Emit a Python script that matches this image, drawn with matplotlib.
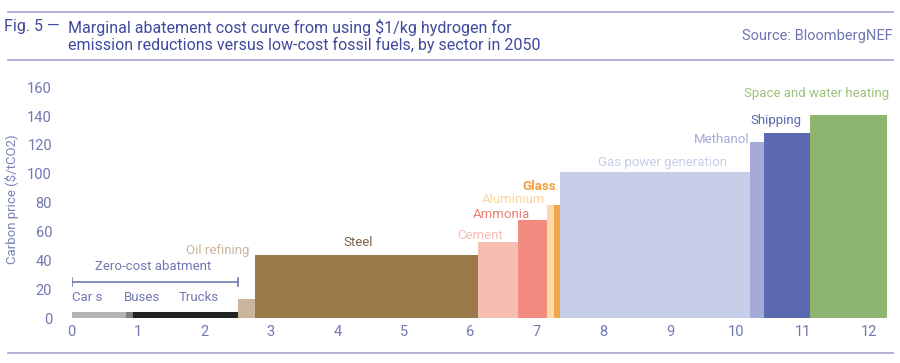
import matplotlib
matplotlib.use("Agg")
import matplotlib.pyplot as plt
from matplotlib import font_manager as fm

# pick font
fam = "Roboto"
for cand in ["Liberation Sans Narrow", "Roboto"]:
    try:
        fm.findfont(fm.FontProperties(family=cand), fallback_to_default=False)
        fam = cand
        break
    except Exception:
        pass
plt.rcParams["font.family"] = [fam, "DejaVu Sans"]

# ---- data ----
sectors = ["Cars", "Buses", "Trucks", "Oil refining", "Steel", "Cement", "Ammonia",
           "Aluminium", "Glass", "Gas power generation", "Methanol", "Shipping",
           "Space and water heating"]
abatement_width = [0.82, 0.11, 1.58, 0.25, 3.36, 0.59, 0.44, 0.11, 0.08, 2.86, 0.22, 0.69, 1.16]
carbon_price = [4, 4, 4, 13, 44, 53, 68, 78, 78, 101, 122, 128, 141]
colors = ["#b3b3b3", "#7f7f7f", "#222222", "#c9b59d", "#9a7a4b", "#f7bdb3", "#f28c80",
          "#fcd9a9", "#f2a64b", "#c8cde8", "#a4abd8", "#5b69b0", "#8db56f"]
label_colors = ["#7078b0", "#7078b0", "#7078b0", "#c9b59d", "#7a6448", "#f7bdb3", "#ea7f74",
                "#fcd39e", "#f0a040", "#c8cde8", "#a4abd8", "#5b69b0", "#9cc27e"]
xticks = list(range(0, 13))
yticks = list(range(0, 161, 20))

fig = plt.figure(figsize=(9, 3.63), dpi=100)
ax = fig.add_axes([71.5 / 900, 45 / 363, (896 - 71.5) / 900, (318 - 80) / 363])

lefts = []
x = 0.0
for w in abatement_width:
    lefts.append(x)
    x += w
ax.bar(lefts, carbon_price, width=abatement_width, align="edge", color=colors, linewidth=0)

ax.set_xlim(0, 12.4)
ax.set_ylim(0, 165)
ax.set_xticks(xticks)
ax.set_yticks(yticks)
tc = "#7078b0"
ax.tick_params(axis="both", length=0, labelsize=10.5, colors=tc)
ax.tick_params(axis="x", pad=5)
ax.tick_params(axis="y", pad=14)
for s in ax.spines.values():
    s.set_visible(False)
ax.set_ylabel("Carbon price ($/tCO2)", color="#7b82b8", fontsize=9.5, labelpad=6)

# sector labels
fs = 9.5
def lab(i, xx, yy, ha="center", weight="normal"):
    ax.text(xx, yy, sectors[i] if i != 0 else "Car s", color=label_colors[i], fontsize=fs,
            ha=ha, va="center", weight=weight)

lab(0, 0.23, 14)
lab(1, 1.06, 14)
lab(2, 1.92, 14)
lab(3, 2.2, 47)
lab(4, 4.31, 52)
lab(5, 6.14, 57.5)
lab(6, 6.47, 72)
lab(7, 6.65, 82)
lab(8, 7.04, 91, weight="bold")
lab(9, 8.89, 108)
ax.text(10.2, 124, sectors[10], color=label_colors[10], fontsize=fs, ha="right", va="center")
lab(11, 10.59, 137)
lab(12, 11.2, 155.5)

# zero-cost bracket
bx0, bx1 = 0.0, abatement_width[0] + abatement_width[1] + abatement_width[2]
ax.plot([bx0, bx1], [25, 25], color="#7078b0", lw=1.2)
ax.plot([bx0, bx0], [22, 28], color="#7078b0", lw=1.2)
ax.plot([bx1, bx1], [22, 28], color="#7078b0", lw=1.2)
ax.text((bx0 + bx1) / 2 - 0.02, 36, "Zero-cost abatment", color="#7078b0", fontsize=fs,
        ha="center", va="center")

# header
lc = "#a3a7cf"
fig.add_artist(plt.Line2D([8 / 900, 893 / 900], [1 - 12 / 363, 1 - 12 / 363], color=lc, lw=1.2))
fig.add_artist(plt.Line2D([8 / 900, 893 / 900], [1 - 60 / 363, 1 - 60 / 363], color=lc, lw=1.2))
fig.add_artist(plt.Line2D([8 / 900, 893 / 900], [1 - 353 / 363, 1 - 353 / 363], color=lc, lw=1.2))
hc = "#3f4a9c"
tfs = 11.5
fig.text(60 / 900, 1 - 27 / 363, "Fig. 5 \u2014", color=hc, fontsize=tfs, va="center", ha="right")
fig.text(68 / 900, 1 - 27 / 363, "Marginal abatement cost curve from using $1/kg hydrogen for",
         color=hc, fontsize=tfs, va="center", ha="left")
fig.text(68 / 900, 1 - 45 / 363, "emission reductions versus low-cost fossil fuels, by sector in 2050",
         color=hc, fontsize=tfs, va="center", ha="left")
fig.text(893 / 900, 1 - 36 / 363, "Source: BloombergNEF", color="#6f77b2", fontsize=10.5,
         va="center", ha="right")

fig.savefig("out.png", dpi=100)
